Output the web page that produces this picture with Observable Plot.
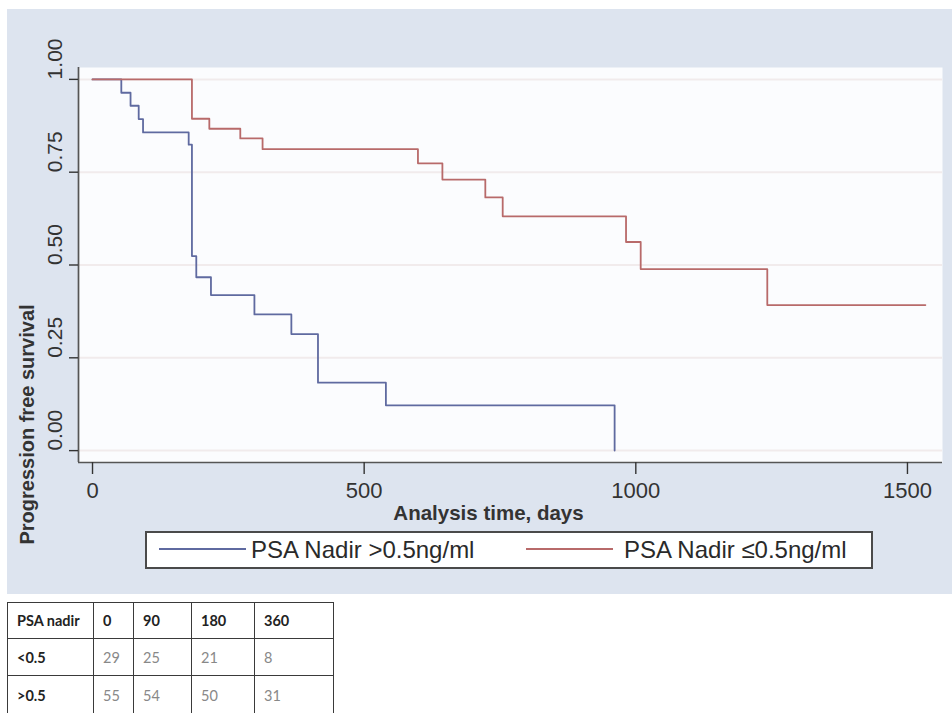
<!DOCTYPE html>
<html><head><meta charset="utf-8">
<script src="https://cdn.jsdelivr.net/npm/d3@7"></script>
<script src="https://cdn.jsdelivr.net/npm/@observablehq/plot@0.6"></script>
<style>
body{margin:0;background:#fff;width:952px;height:713px;overflow:hidden;position:relative;font-family:"Liberation Sans",Arial,sans-serif;}
#wrap{position:absolute;left:7px;top:9px;width:945px;height:585px;background:#dde4ef;}
#wrap svg{position:absolute;left:0;top:0;}
#legend{position:absolute;left:138px;top:522px;width:724px;height:34px;border:2px solid #4a4a4a;background:#fff;}
.lg-line{position:absolute;height:2px;}
.lg-text{position:absolute;font-size:24px;color:#2a2a2a;line-height:34px;top:0;white-space:nowrap;}
#tbl{position:absolute;left:7px;top:602px;border-collapse:collapse;font-family:Lato,"Open Sans",sans-serif;font-size:14.5px;}
#tbl td{border:1.3px solid #3a3a3a;padding:0 0 0 9px;vertical-align:middle;color:#888;}
#tbl tr:first-child td{color:#222;font-weight:bold;}
#tbl td:first-child{color:#222;font-weight:bold;}
</style></head>
<body>
<div id="wrap"><div id="legend"></div></div>
<table id="tbl"></table>
<script>
// Kaplan-Meier estimates
const daysHigh = [0, 53, 70, 85, 93, 177, 183, 191, 218, 298, 366, 415, 540, 961];
const survHigh = [1, 0.964, 0.929, 0.893, 0.857, 0.824, 0.524, 0.467, 0.419, 0.367, 0.314, 0.183, 0.122, 0];
const daysLow = [0, 183, 215, 272, 313, 599, 644, 723, 755, 982, 1009, 1242, 1533];
const survLow = [1, 0.894, 0.867, 0.841, 0.812, 0.774, 0.730, 0.682, 0.631, 0.562, 0.489, 0.392, 0.392];
const seriesNames = ["PSA Nadir >0.5ng/ml", "PSA Nadir \u22640.5ng/ml"];
const seriesColors = ["#5f6aa0", "#b86a6a"];
const xTicks = [0, 500, 1000, 1500];
const yTicks = [0, 0.25, 0.5, 0.75, 1];
const xTitle = "Analysis time, days";
const yTitle = "Progression free survival";
const tableHeader = ["PSA nadir", "0", "90", "180", "360"];
const tableLabels = ["<0.5", ">0.5"];
const tableLow = [29, 25, 21, 8];
const tableHigh = [55, 54, 50, 31];

const high = daysHigh.map((d, i) => ({day: d, s: survHigh[i]}));
const low = daysLow.map((d, i) => ({day: d, s: survLow[i]}));
const xDomain = [-25.8, 1564.5], yDomain = [-0.032, 1.032];
const font = "'Liberation Sans', Arial, sans-serif";

const chart = Plot.plot({
  width: 945, height: 521,
  marginLeft: 71, marginRight: 10, marginTop: 58, marginBottom: 68,
  x: {domain: xDomain},
  y: {domain: yDomain},
  style: {background: "transparent", fontFamily: font, overflow: "visible"},
  marks: [
    Plot.frame({fill: "#fbfcfe", stroke: "none"}),
    Plot.gridY(yTicks, {stroke: "#f1ebec", strokeOpacity: 1, strokeWidth: 2}),
    Plot.line(high, {x: "day", y: "s", curve: "step-after", stroke: seriesColors[0], strokeWidth: 1.8}),
    Plot.line(low, {x: "day", y: "s", curve: "step-after", stroke: seriesColors[1], strokeWidth: 1.8}),
    Plot.ruleX([xDomain[0]], {stroke: "#555", strokeWidth: 1.7}),
    Plot.ruleY([yDomain[0]], {stroke: "#555", strokeWidth: 1.7}),
    Plot.axisY({ticks: yTicks, tickSize: 9, tickPadding: 14, tickRotate: -90, textAnchor: "start", lineAnchor: "middle",
      tickFormat: d3.format(".2f"), fontSize: 21, label: null, color: "#333", strokeWidth: 1.4}),
    Plot.axisX({ticks: xTicks, tickSize: 12, tickPadding: 8, tickFormat: d => String(d), fontSize: 22, label: null, color: "#333", strokeWidth: 1.4}),
    Plot.text([yTitle], {text: d => d, frameAnchor: "bottom-left", textAnchor: "middle", lineAnchor: "middle", rotate: -90, dx: -51, dy: -38, fontSize: 20, fontWeight: "bold", fill: "#333"}),
    Plot.text([xTitle], {text: d => d, frameAnchor: "bottom", textAnchor: "middle", lineAnchor: "middle", dx: -22, dy: 51, fontSize: 20.5, fontWeight: "bold", fill: "#333"})
  ]
});
document.getElementById("wrap").prepend(chart);

// legend
const lg = d3.select("#legend");
const lineX = [12, 379], textX = [104, 477];
seriesNames.forEach((name, i) => {
  lg.append("div").attr("class", "lg-line")
    .style("left", lineX[i] + "px").style("width", "87px").style("top", "15px")
    .style("background", seriesColors[i]);
  lg.append("div").attr("class", "lg-text").style("left", textX[i] + "px").text(name);
});

// table
const tbl = d3.select("#tbl");
const widths = [85, 39, 57, 62, 78];
const heights = [36, 37, 40];
const rows = [tableHeader, [tableLabels[0], ...tableLow], [tableLabels[1], ...tableHigh]];
rows.forEach((r, ri) => {
  const tr = tbl.append("tr").style("height", heights[ri] + "px");
  r.forEach((c, ci) => tr.append("td").style("width", (widths[ci] - 9) + "px").text(c));
});
</script>
</body></html>
